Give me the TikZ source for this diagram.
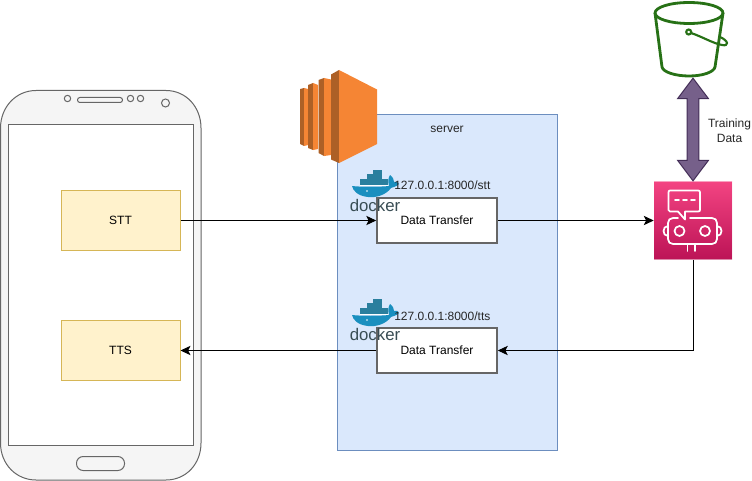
\documentclass[tikz,border=0pt]{standalone}
\usepackage{fontspec}
\setmainfont{Liberation Sans}
\usetikzlibrary{arrows.meta,shapes.arrows}
\definecolor{yfill}{HTML}{FFF2CC}
\definecolor{ystroke}{HTML}{D6B656}
\definecolor{sfill}{HTML}{DAE8FC}
\definecolor{sstroke}{HTML}{6C8EBF}
\definecolor{ph}{HTML}{666666}
\definecolor{phf}{HTML}{F5F5F5}
\definecolor{ecl}{HTML}{F58534}
\definecolor{ecd}{HTML}{AD6026}
\definecolor{bkt}{HTML}{277116}
\definecolor{purf}{HTML}{76608A}
\definecolor{purs}{HTML}{432D57}
\definecolor{wh}{HTML}{1A8FBF}
\definecolor{cont}{HTML}{2A7F9E}
\definecolor{dtext}{HTML}{394D54}
\definecolor{rtop}{HTML}{F34482}
\definecolor{rbot}{HTML}{BC1356}
\tikzset{
  yellowbox/.style={draw=ystroke,fill=yfill,line width=0.75pt,inner sep=0pt,minimum width=89.25pt,minimum height=45pt,font=\fontsize{9pt}{10pt}\selectfont},
  dtbox/.style={draw=ph,fill=white,line width=1.2pt,inner sep=0pt,minimum width=90pt,minimum height=33.75pt,font=\fontsize{9pt}{10pt}\selectfont},
  lbl/.style={inner sep=0pt,font=\fontsize{9pt}{10pt}\selectfont,text=black!85},
  arr/.style={line width=0.75pt,-{Stealth[length=7.5pt,width=7pt,inset=1.8pt]}},
  phoneline/.style={draw=ph,line width=0.75pt},
  robotline/.style={draw=white,line width=1.3pt,line join=round,line cap=round},
}
\newcommand{\dockerlogo}[2]{%
  \begin{scope}[shift={(#1,#2)}]
    \fill[cont] (360,179) rectangle (388,185);
    \fill[cont] (367,174) rectangle (382,180);
    \fill[cont] (373,170) rectangle (382,175);
    \fill[wh] (352,186) .. controls (360,187) and (380,187) .. (389,186)
      .. controls (388,182) and (388,178) .. (390,175)
      .. controls (393,177) and (394,180) .. (394,182)
      .. controls (396,181) and (398,182) .. (399,184)
      .. controls (396,187) and (393,187) .. (391,188)
      .. controls (386,195) and (376,198) .. (368,197)
      .. controls (358,196) and (353,191) .. (352,186) -- cycle;
    \draw[white,line width=0.4pt] (360,185.5) -- (388,185.5);
    \fill[white] (367,191) circle[radius=0.9];
  \end{scope}
}
\begin{document}
\begin{tikzpicture}[x=0.75pt,y=-0.75pt]
\useasboundingbox (0,0) rectangle (752,481);
% phone
\draw[phoneline,fill=phf] (36,90.5) -- (166,90.5) .. controls (186,90.5) and (201,107) .. (201,128)
  -- (201,443) .. controls (201,464) and (186,480) .. (166,480) -- (36,480)
  .. controls (16,480) and (0.5,464) .. (0.5,443) -- (0.5,128) .. controls (0.5,107) and (16,90.5) .. (36,90.5) -- cycle;
\node[phoneline,fill=white,inner sep=0pt,minimum width=138.75pt,minimum height=240pt] (screen) at (100.5,285) {};
\draw[phoneline] (67.5,98.5) circle[radius=3.2];
\draw[phoneline,rounded corners=1.8pt] (77.5,97.5) rectangle (122.5,102.5);
\draw[phoneline] (130.5,98.5) circle[radius=3.2];
\draw[phoneline] (140.5,98.5) circle[radius=3.2];
\draw[phoneline] (165.5,103) circle[radius=4];
\draw[phoneline,rounded corners=5pt] (76.5,456.5) rectangle (124.5,470.5);
% server
\node[draw=sstroke,fill=sfill,line width=0.75pt,inner sep=0pt,minimum width=165pt,minimum height=251.25pt] (server) at (447,282.5) {};
\node[lbl] (serverlabel) at (447,129) {server};
% EC2
\fill[ecd] (300,89) -- (304,88) -- (304,146) -- (300,144) -- cycle;
\fill[ecl] (304,88) -- (308,89) -- (308,145) -- (304,146) -- cycle;
\fill[ecd] (308,85) -- (313,83) -- (313,150) -- (308,148) -- cycle;
\fill[ecl] (313,83) -- (318,85) -- (318,149) -- (313,150) -- cycle;
\fill[ecd] (318.5,80) -- (324,78) -- (324,156) -- (318.5,153) -- cycle;
\fill[ecl] (324,78) -- (331,79.5) -- (331,155) -- (324,156) -- cycle;
\fill[ecd] (331,74.5) -- (339,70) -- (339,163) -- (331,159.5) -- cycle;
\fill[ecl] (339,70) -- (377,89.5) -- (377,144) -- (339,163) -- cycle;
% yellow boxes
\node[yellowbox] (stt) at (120.5,220.5) {STT};
\node[yellowbox] (tts) at (120.5,350.5) {TTS};
% data transfer boxes
\node[dtbox] (dt1) at (437,220.5) {Data Transfer};
\node[dtbox] (dt2) at (437,350.5) {Data Transfer};
\dockerlogo{0}{0}
\dockerlogo{0}{129}
\node[inner sep=0pt,font=\fontsize{12.6pt}{13pt}\selectfont,text=dtext] (dk1) at (375,205) {docker};
\node[inner sep=0pt,font=\fontsize{12.6pt}{13pt}\selectfont,text=dtext] (dk2) at (375,334) {docker};
\node[lbl,anchor=west] (ip1) at (394,185.5) {127.0.0.1:8000/stt};
\node[lbl,anchor=west] (ip2) at (394,316.5) {127.0.0.1:8000/tts};
% robot
\node[inner sep=0pt,minimum width=58.5pt,minimum height=58.5pt,top color=rtop,bottom color=rbot,draw=none] (robot) at (693,220.5) {};
\draw[white,line width=0.5pt,opacity=0.5] (robot.north west) rectangle (robot.south east);
\draw[robotline] (670,190.5) -- (698,190.5) .. controls (699.5,190.5) and (700,191) .. (700,192.5) -- (700,210) .. controls (700,211) and (699.5,211.5) .. (698,211.5) -- (685,211.5) -- (685,219.5) -- (678,211.5) -- (670,211.5) .. controls (669,211.5) and (668.5,211) .. (668.5,210) -- (668.5,192.5) .. controls (668.5,191) and (669,190.5) .. (670,190.5) -- cycle;
\draw[robotline] (675,200) -- (679,200) (683,200) -- (687,200) (691,200) -- (695,200);
\draw[robotline] (678,218) -- (673,218) .. controls (670,218) and (668,220) .. (668,223) -- (668,239) .. controls (668,242) and (670,244) .. (673,244) -- (712,244) .. controls (715,244) and (717,242) .. (717,239) -- (717,223) .. controls (717,220) and (715,218) .. (712,218) -- (690,218);
\draw[robotline] (679.5,231) circle[radius=5];
\draw[robotline] (705,231) circle[radius=5];
\draw[robotline] (668,226) .. controls (662,226) and (662,236) .. (668,236);
\draw[robotline] (717,226) .. controls (723,226) and (723,236) .. (717,236);
\draw[robotline] (687.5,244) -- (687.5,251) (695,244) -- (695,251);
% bucket
\draw[bkt,line width=2.1pt] (689,13) ellipse[x radius=34,y radius=10.5];
\draw[bkt,line width=2.1pt,line join=round] (655,13) -- (662,67) .. controls (663,72) and (675,76) .. (689,76) .. controls (703,76) and (714,72) .. (715,67) -- (723,13);
\draw[bkt,line width=1.6pt] (688.7,32) circle[radius=2.5];
\draw[bkt,line width=1.6pt] (691,33) .. controls (703,37) and (712,43) .. (722,45) .. controls (729,46.5) and (729,41) .. (720,37);
% connectors
\draw[arr] (stt.east) -- (dt1.west);
\draw[arr] (dt1.east) -- (robot.west);
\draw[arr] (robot.south) |- (dt2.east);
\draw[arr] (dt2.west) -- (tts.east);
% purple arrow
\node[double arrow,rotate=90,draw=purs,fill=purf,line width=0.75pt,inner xsep=0pt,inner ysep=4pt,minimum height=77pt,double arrow head extend=7.2pt,double arrow head indent=0pt,double arrow tip angle=74] (training) at (693,129.5) {};
\node[lbl,align=center,font=\fontsize{9pt}{11.3pt}\selectfont] (tdlabel) at (729.5,131) {Training\\Data};
\end{tikzpicture}
\end{document}
